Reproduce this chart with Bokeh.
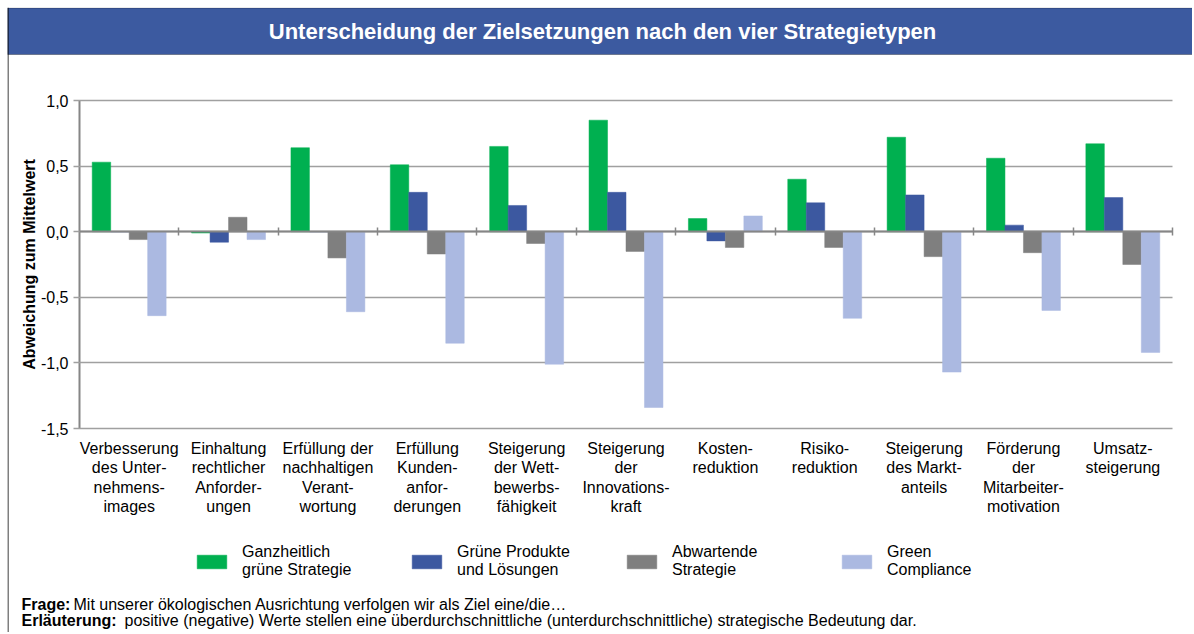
from bokeh.plotting import figure
from bokeh.models import (ColumnDataSource, Range1d, FixedTicker, LinearAxis,
                          CustomJSTickFormatter, Span, BoxAnnotation, Label,
                          Legend, LegendItem)
from bokeh.core.properties import value
from bokeh.transform import dodge
from bokeh.embed import file_html
from bokeh.resources import INLINE

# ---------------- data ----------------
categories = [
    "Verbesserung\ndes Unter-\nnehmens-\nimages",
    "Einhaltung\nrechtlicher\nAnforder-\nungen",
    "Erfüllung der\nnachhaltigen\nVerant-\nwortung",
    "Erfüllung\nKunden-\nanfor-\nderungen",
    "Steigerung\nder Wett-\nbewerbs-\nfähigkeit",
    "Steigerung\nder\nInnovations-\nkraft",
    "Kosten-\nreduktion",
    "Risiko-\nreduktion",
    "Steigerung\ndes Markt-\nanteils",
    "Förderung\nder\nMitarbeiter-\nmotivation",
    "Umsatz-\nsteigerung",
]
ganzheitlich = [0.53, -0.01, 0.64, 0.51, 0.65, 0.85, 0.10, 0.40, 0.72, 0.56, 0.67]
gruene_produkte = [0.00, -0.08, 0.00, 0.30, 0.20, 0.30, -0.07, 0.22, 0.28, 0.05, 0.26]
abwartende = [-0.06, 0.11, -0.20, -0.17, -0.09, -0.15, -0.12, -0.12, -0.19, -0.16, -0.25]
green_compliance = [-0.64, -0.06, -0.61, -0.85, -1.01, -1.34, 0.12, -0.66, -1.07, -0.60, -0.92]

series_labels = ["Ganzheitlich\ngrüne Strategie", "Grüne Produkte\nund Lösungen",
                 "Abwartende\nStrategie", "Green\nCompliance"]
series_colors = ["#00B050", "#3C58A0", "#7F7F7F", "#ABB9E1"]
y_ticks = [-1.5, -1.0, -0.5, 0.0, 0.5, 1.0]

title_text = "Unterscheidung der Zielsetzungen nach den vier Strategietypen"
y_label = "Abweichung zum Mittelwert"
note_q_head = "Frage:"
note_q_text = "Mit unserer ökologischen Ausrichtung verfolgen wir als Ziel eine/die…"
note_e_head = "Erläuterung:"
note_e_text = ("positive (negative) Werte stellen eine überdurchschnittliche "
               "(unterdurchschnittliche) strategische Bedeutung  dar.")

# ---------------- layout (pixels on the page) ----------------
FONT = "Liberation Sans"
FIG_W, FIG_H = 1192, 632
FRAME_L, FRAME_T = 7, 7
PLOT_L, PLOT_R, PLOT_T, PLOT_B = 79, 1172, 100, 428
n = len(categories)
y_lo, y_hi = min(y_ticks), max(y_ticks)


def px2x(px):
    return -0.5 + (px - PLOT_L) * n / (PLOT_R - PLOT_L)


def px2y(py):
    return y_hi - (py - PLOT_T) * (y_hi - y_lo) / (PLOT_B - PLOT_T)


source = ColumnDataSource(data=dict(
    idx=list(range(n)),
    s0=ganzheitlich,
    s1=gruene_produkte,
    s2=abwartende,
    s3=green_compliance,
))

p = figure(width=FIG_W, height=FIG_H, output_backend="svg", toolbar_location=None,
           x_range=Range1d(px2x(FRAME_L), px2x(FIG_W)),
           y_range=Range1d(px2y(FIG_H), px2y(FRAME_T)),
           min_border_left=FRAME_L, min_border_right=0, min_border_top=FRAME_T,
           min_border_bottom=0)
p.outline_line_color = None
p.background_fill_color = "white"
p.border_fill_color = "white"
p.xgrid.visible = False
p.ygrid.visible = False

# ---------------- bars ----------------
bar_w = 0.186
offsets = [-1.5 * bar_w, -0.5 * bar_w, 0.5 * bar_w, 1.5 * bar_w]
renderers = []
for i, (off, col) in enumerate(zip(offsets, series_colors)):
    r = p.vbar(x=dodge("idx", off), top="s%d" % i, bottom=0, width=bar_w,
               source=source, fill_color=col, line_color=col, line_width=0.5)
    renderers.append(r)

# ---------------- value axis (its inward ticks form the gridlines) ----------------
ya = p.yaxis[0]
ya.fixed_location = -0.5
ya.bounds = (y_lo, y_hi)
ya.ticker = FixedTicker(ticks=y_ticks)
ya.formatter = CustomJSTickFormatter(code="return tick.toFixed(1).replace('.', ',');")
ya.axis_line_color = "#868686"
ya.axis_line_width = 2
ya.major_tick_line_color = "#A0A0A0"
ya.major_tick_line_width = 1.3
ya.major_tick_in = PLOT_R - PLOT_L
ya.major_tick_out = 6
ya.minor_tick_line_color = None
ya.major_label_text_font = FONT
ya.major_label_text_font_size = "16px"
ya.major_label_text_color = "#000000"
ya.major_label_standoff = 5
ya.axis_label = y_label
ya.axis_label_text_font = FONT
ya.axis_label_text_font_size = "16px"
ya.axis_label_text_font_style = "bold"
ya.axis_label_text_color = "#000000"
ya.axis_label_standoff = 0
ya.level = "underlay"

# ---------------- category axis (labels below the plot) ----------------
xa = p.xaxis[0]
xa.fixed_location = y_lo
xa.ticker = FixedTicker(ticks=list(range(n)))
xa.major_label_overrides = {i: c for i, c in enumerate(categories)}
xa.axis_line_color = None
xa.major_tick_line_color = None
xa.minor_tick_line_color = None
xa.major_label_text_font = FONT
xa.major_label_text_font_size = "16px"
xa.major_label_text_color = "#000000"
xa.major_label_text_line_height = 1.15
xa.major_label_standoff = 5

# ---------------- zero line with category separators ----------------
za = LinearAxis(fixed_location=0, bounds=(-0.5, n - 0.5),
                ticker=FixedTicker(ticks=[i + 0.5 for i in range(n)]),
                formatter=CustomJSTickFormatter(code="return '';"),
                axis_line_color="#868686", axis_line_width=2,
                major_tick_line_color="#868686", major_tick_line_width=1.5,
                major_tick_in=4, major_tick_out=4, minor_tick_line_color=None,
                major_label_text_font_size="1px")
p.add_layout(za, "below")

# ---------------- title bar and frame line ----------------
p.add_layout(BoxAnnotation(left=px2x(FRAME_L), right=px2x(FIG_W + 4),
                           top=px2y(FRAME_T + 0.5), bottom=px2y(54),
                           fill_color="#3C5AA0", fill_alpha=1,
                           line_color="#000000", line_width=1.2))
p.add_layout(Span(location=px2x(FRAME_L + 0.5), dimension="height",
                  line_color="#000000", line_width=1))
p.add_layout(Label(x=px2x(602), y=px2y(31), text=title_text, text_align="center",
                   text_baseline="middle", text_color="white", text_font=FONT,
                   text_font_style="bold", text_font_size="22px"))

# ---------------- legend ----------------
legend = Legend(items=[LegendItem(label=value(lbl), renderers=[r])
                       for lbl, r in zip(series_labels, renderers)],
                orientation="horizontal", location=(193 - FRAME_L, 53),
                padding=0, margin=0, spacing=5, glyph_width=37, glyph_height=17,
                label_standoff=12, label_width=161, label_text_font=FONT,
                label_text_font_size="16px", label_text_line_height=1.35,
                label_text_color="#000000", border_line_color=None,
                background_fill_alpha=0)
p.add_layout(legend, "center")

# ---------------- footnotes ----------------
for txt, style, fx, fy in [(note_q_head, "bold", 21, 604), (note_q_text, "normal", 73, 604),
                           (note_e_head, "bold", 21, 620), (note_e_text, "normal", 124, 620)]:
    p.add_layout(Label(x=px2x(fx), y=px2y(fy), text=txt, text_align="left",
                       text_baseline="alphabetic", text_color="#000000",
                       text_font=FONT, text_font_style=style,
                       text_font_size="16px"))

open("out.html", "w").write(file_html(p, INLINE))
